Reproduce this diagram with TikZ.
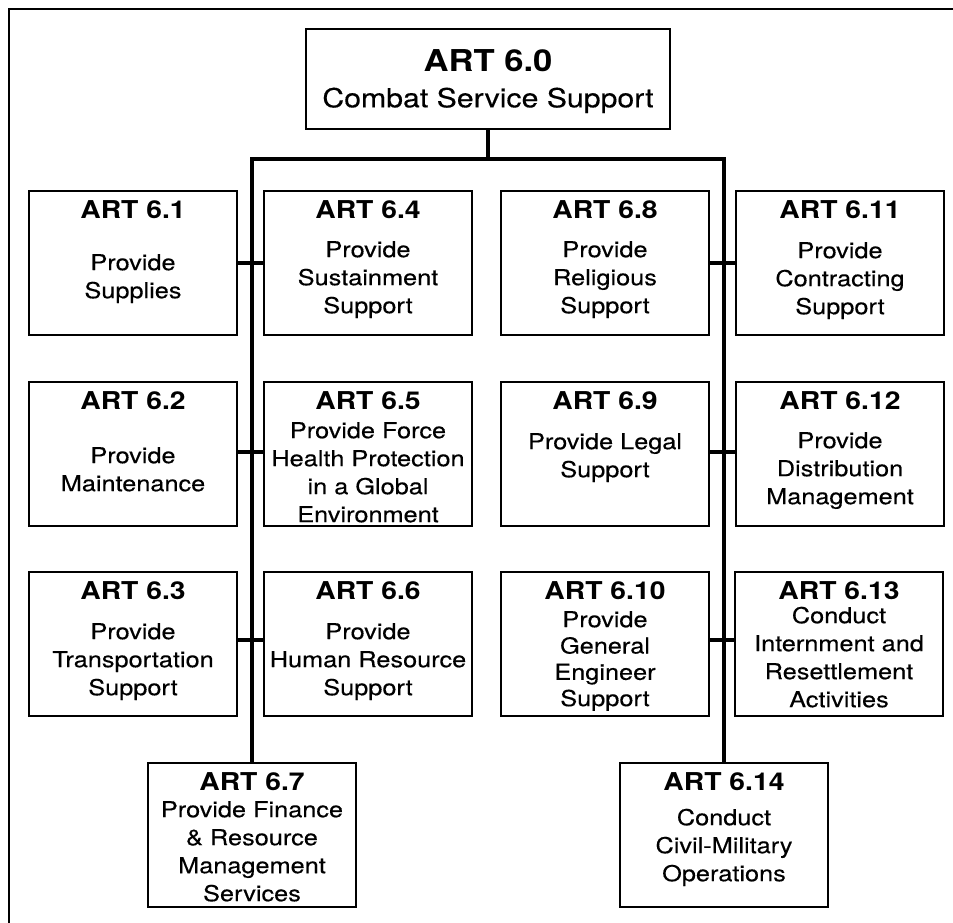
\documentclass[tikz,border=0pt]{standalone}
\usepackage{fontspec}
\setmainfont{TeX Gyre Heros}[FakeStretch=1.15, UprightFeatures={FakeBold=0.3}]
\tikzset{
  boxsty/.style={draw, line width=1.5pt, minimum width=208pt, minimum height=144pt,
    inner sep=0pt, outer sep=0pt, anchor=north west},
  titlesty/.style={font=\bfseries\fontsize{24.6pt}{28pt}\selectfont, inner sep=0pt, anchor=base},
  bodysty/.style={font=\fontsize{22pt}{28pt}\selectfont, inner sep=0pt, align=center, anchor=north},
  conn/.style={line width=4pt, line join=miter},
  framesty/.style={line width=2pt}
}
% #1 extra body style, #2 name, #3 x0, #4 y0, #5 number, #6 first body baseline, #7 body
\newcommand\artbox[7][]{%
  \node[boxsty] (#2) at (#3,#4) {};
  \node[titlesty] (#2t) at (#3+104,#4+27.5) {ART #5};
  \node[bodysty,#1] (#2b) at (#3+104,#6-20) {\rule{0pt}{20pt}#7};
}
\begin{document}
\begin{tikzpicture}[x=1pt,y=-1pt]
\useasboundingbox (0,0) rectangle (953,922);
\clip (0,0) rectangle (953,922);
\draw[framesty] (9,9) rectangle (975,945);

% top box
\node[draw, line width=1.5pt, minimum width=364pt, minimum height=100pt,
  inner sep=0pt, outer sep=0pt, anchor=north west] (top) at (306,29) {};
\node[anchor=base, inner sep=0pt, font=\bfseries\fontsize{30.1pt}{32pt}\selectfont] (topt) at (488,71.7) {ART 6.0};
\node[anchor=base, inner sep=0pt, font=\fontsize{26.3pt}{30pt}\selectfont] (tops) at (488,107.3) {Combat Service Support};

% boxes
\artbox{b61}{29}{191}{6.1}{270}{Provide\\Supplies}
\artbox{b62}{29}{382}{6.2}{463}{Provide\\Maintenance}
\artbox{b63}{29}{572}{6.3}{639}{Provide\\Transportation\\Support}
\artbox{b64}{264}{191}{6.4}{257}{Provide\\Sustainment\\Support}
\artbox{b65}{264}{382}{6.5}{438}{Provide Force\\Health Protection\\in a Global\\Environment}
\artbox{b66}{264}{572}{6.6}{639}{Provide\\Human Resource\\Support}
\artbox{b67}{148}{763}{6.7}{817}{Provide Finance\\\& Resource\\Management\\Services}
\artbox{b68}{501}{191}{6.8}{257}{Provide\\Religious\\Support}
\artbox{b69}{501}{382}{6.9}{449}{Provide Legal\\Support}
\artbox[font=\fontsize{22pt}{26.3pt}\selectfont]{b610}{501}{572}{6.10}{627}{Provide\\General\\Engineer\\Support}
\artbox{b611}{736}{191}{6.11}{258}{Provide\\Contracting\\Support}
\artbox{b612}{736}{382}{6.12}{448}{Provide\\Distribution\\Management}
\artbox{b613}{735}{572}{6.13}{623}{Conduct\\Internment and\\Resettlement\\Activities}
\artbox{b614}{620}{763}{6.14}{825}{Conduct\\Civil-Military\\Operations}

% connectors
\coordinate (busmid) at (488,159);
\draw[conn] (top.south) -- (busmid);
\draw[conn] (b67.north) |- (busmid) -| (b614.north);
\draw[conn] (b61.east) -- (b64.west);
\draw[conn] ([yshift=2pt]b62.east) -- ([yshift=2pt]b65.west);
\draw[conn] ([yshift=4.5pt]b63.east) -- ([yshift=4.5pt]b66.west);
\draw[conn] (b68.east) -- (b611.west);
\draw[conn] ([yshift=2pt]b69.east) -- ([yshift=2pt]b612.west);
\draw[conn] ([yshift=4.5pt]b610.east) -- ([yshift=4.5pt]b613.west);
\end{tikzpicture}
\end{document}
